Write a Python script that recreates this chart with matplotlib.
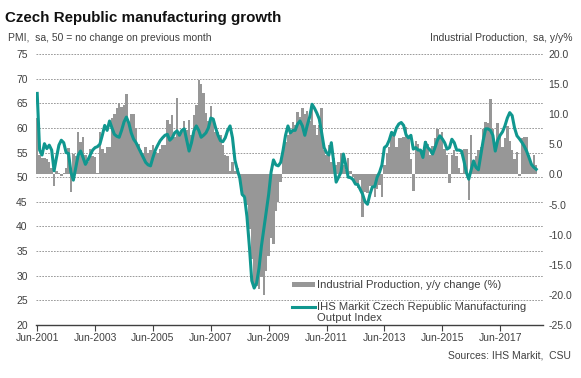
import matplotlib
matplotlib.use("Agg")
import matplotlib.pyplot as plt
import matplotlib.transforms as mtransforms
from matplotlib.lines import Line2D
from matplotlib.patches import Rectangle
import numpy as np

plt.rcParams['font.family'] = ['Liberation Sans', 'DejaVu Sans']

# monthly, starting Jun-2001
pmi_output = [
    67, 55.5, 54.5, 56.8, 55.8, 56.5, 55.5, 51.3, 54, 56.5, 57.5, 57,
    55, 54.8, 51, 49.4, 52, 54.5, 55.3, 54, 52.6, 53.5, 54.5, 55.5,
    56, 56.2, 56.7, 58.5, 60.5, 59.5, 61.4, 60, 58.7, 58.3, 58.1, 59.5,
    61.2, 62.2, 61, 59, 57.7, 57, 56, 55, 54, 53, 52.5, 52.3,
    54, 55.5, 56.5, 57.4, 58, 58.5, 58.7, 57.5, 58, 59, 59.4, 58.5,
    59.5, 59.8, 57.5, 55.3, 57, 59.4, 60.4, 59.5, 58.1, 58.5, 59, 60,
    62, 61.8, 60, 58.5, 57.4, 57.2, 58, 59.5, 60.4, 58, 53.5, 51.5,
    49.9, 46.5, 46, 42, 36, 29, 27.5, 28.5, 31.5, 36, 39.5, 43,
    46.5, 51, 53.5, 52.5, 52.3, 53, 55.5, 58.5, 60.4, 59, 59.5, 59.5,
    60.8, 61.4, 60.4, 58.5, 60.5, 62.2, 64.8, 64, 63, 61.8, 59, 56,
    55, 54.5, 57, 53, 49, 50, 51, 54.7, 52.5, 50, 49.9, 49.5,
    48.6, 48.5, 47.5, 46.5, 45, 44.5, 46.5, 48, 48.1, 50, 51, 52.5,
    56, 56.4, 57.5, 59.1, 58.5, 60, 60.8, 61.1, 60.5, 58.6, 58, 58.5,
    55.7, 56, 55.5, 55.5, 54, 57.1, 56, 55.5, 54.7, 56, 57.5, 58.4,
    57.8, 57, 55.7, 56, 57.7, 57, 55.5, 55.5, 55.3, 53.3, 51, 49.6,
    51.5, 53.3, 52, 51.5, 54.5, 57.5, 59.8, 59.8, 59.5, 58.5, 55.3, 57.5,
    58.5, 59.2, 60.4, 62, 63.1, 62.5, 60, 58.4, 57.8, 57.1, 56.3, 55.3,
    54, 52.6, 52, 51.6,
]

ip_yoy = [
    9.3, 3.2, 2.8, 2.7, 2.5, 2.1, 1.0, -2.0, 0.5, 0.3, -0.2, 0.2,
    1.0, 4.4, -2.9, 3.4, 3.0, 7.1, 5.4, 6.3, 3.2, 2.1, 4.3, 3.0,
    2.9, 0.2, 7.1, 4.3, 3.5, 4.6, 4.6, 9.3, 10.1, 11.0, 11.8, 11.2,
    11.5, 13.3, 8.7, 10.1, 10.1, 7.7, 5.0, 4.0, 3.5, 4.5, 3.6, 4.0,
    4.9, 3.8, 3.6, 4.2, 4.9, 4.9, 9.1, 8.3, 9.9, 6.3, 12.7, 7.1,
    7.1, 8.8, 7.4, 9.1, 6.6, 9.9, 11.5, 15.7, 15.1, 13.5, 10.2, 8.8,
    11.3, 8.8, 7.1, 7.0, 6.6, 4.9, 3.2, 3.0, 0.5, 2.0, 0.5, 1.0,
    -0.5, -2.5, -3.5, -5.0, -9.0, -14, -19, -18.5, -19, -17, -20, -16,
    -13.5, -10.5, -11.5, -6, -4.5, -1.2, 3.5, 5.4, 6.5, 7.4, 8.7, 8.2,
    10.4, 9.6, 11, 10.1, 10.5, 8.8, 11, 8.2, 6.6, 8.2, 11, 4.0,
    3.2, 4.9, 2.1, 2.7, 1.5, 2.0, 3.5, 1.5, 0.8, 2.7, 0.5, -0.5,
    -1.5, -2.3, -1.0, -7.0, -2.9, -3.0, -2.0, -2.3, -3.7, -2.5, -1.8, -3.7,
    1.5, 3.5, 4.5, 6.7, 6.5, 4.5, 6.1, 6.0, 6.3, 7.8, 6.0, 2.5,
    -2.7, 5.6, 5.0, 4.0, 4.0, 5.5, 5.0, 3.3, 4.7, 6.0, 7.5, 6.5,
    7.1, 4.3, 3.3, -1.5, 3.3, 4.0, 3.0, 1.1, 0.2, 4.3, 4.2, -4.3,
    6.5, 1.5, 3.0, 4.0, 4.5, 7.6, 8.7, 8.5, 12.6, 7.5, 5.0, 8.5,
    6.5, 4.5, 6.0, 8.0, 5.5, 4.0, 2.5, 3.8, -0.3, 6.0, 6.2, 6.2,
    3.2, 1.5, 3.2, 1.5,
]

tick_labels = ['Jun-2001', 'Jun-2003', 'Jun-2005', 'Jun-2007', 'Jun-2009',
               'Jun-2011', 'Jun-2013', 'Jun-2015', 'Jun-2017']
pmi_ticks = [20, 25, 30, 35, 40, 45, 50, 55, 60, 65, 70, 75]
ip_ticks = [-25, -20, -15, -10, -5, 0, 5, 10, 15, 20]

teal = '#10978f'
grey = '#979797'
txt = '#404040'

W, H = 581, 378
months = np.arange(len(pmi_output))

fig = plt.figure(figsize=(W / 100, H / 100), dpi=100)
ax1 = fig.add_axes([36 / W, 1 - 325 / H, (543 - 36) / W, (325 - 54) / H])
ax2 = ax1.twinx()
ax1.set_zorder(ax2.get_zorder() + 1)
ax1.patch.set_visible(False)

# bars on right axis
ax2.bar(months, ip_yoy, width=1.0, color=grey, zorder=2)
ax2.set_ylim(-25, 20)
ax2.set_yticks(ip_ticks)
ax2.set_yticklabels(['%.1f' % v for v in ip_ticks])

# grid lines follow the PMI scale, drawn beneath the bars
tr = mtransforms.blended_transform_factory(ax2.transAxes, ax1.transData)
for v in pmi_ticks[1:]:
    ax2.plot([0, 1], [v, v], transform=tr, color='#8a8a8a', lw=0.6,
             ls=(0, (2, 1.5)), zorder=0)

ax1.plot(months, pmi_output, color=teal, lw=2.2, zorder=3,
         solid_joinstyle='round')
ax1.set_ylim(20, 75)
ax1.set_yticks(pmi_ticks)
ax1.set_xlim(-0.5, 209.8)
ax1.set_xticks(np.arange(0, 24 * len(tick_labels), 24))
ax1.set_xticklabels(tick_labels)

for a in (ax1, ax2):
    for s in a.spines.values():
        s.set_visible(False)
ax1.spines['bottom'].set_visible(True)
ax1.spines['bottom'].set_color('#404040')
ax1.spines['bottom'].set_linewidth(1.0)

ax1.tick_params(axis='x', direction='out', length=4, width=0.8, color='#404040',
                labelsize=7.5, labelcolor=txt, pad=2)
ax1.tick_params(axis='y', length=0, labelsize=7.5, labelcolor=txt, pad=6)
ax2.tick_params(axis='y', length=0, labelsize=7.5, labelcolor=txt, pad=4)

# legend, laid out by hand (pixel positions)
def fx(px):
    return px / W

def fy(py):
    return 1 - py / H

fig.add_artist(Rectangle((fx(292), fy(287)), fx(315) - fx(292), fy(282) - fy(287),
                         transform=fig.transFigure, facecolor=grey, edgecolor='none'))
fig.add_artist(Line2D([fx(292), fx(315)], [fy(307), fy(307)],
                      transform=fig.transFigure, color=teal, lw=2.2))
fig.text(fx(317), fy(284.5), 'Industrial Production, y/y change (%)',
         fontsize=8.1, color=txt, va='center', ha='left')
fig.text(fx(317), fy(307), 'IHS Markit Czech Republic Manufacturing',
         fontsize=8.1, color=txt, va='center', ha='left')
fig.text(fx(317), fy(318), 'Output Index',
         fontsize=8.1, color=txt, va='center', ha='left')

fig.text(fx(5), fy(18), 'Czech Republic manufacturing growth',
         fontsize=10.9, fontweight='bold', color='#111111', va='center', ha='left')
fig.text(fx(8), fy(38), 'PMI,  sa, 50 = no change on previous month',
         fontsize=7.5, color=txt, va='center', ha='left')
fig.text(fx(573), fy(38), 'Industrial Production,  sa, y/y%',
         fontsize=7.5, color=txt, va='center', ha='right')
fig.text(fx(571), fy(355), 'Sources: IHS Markit,  CSU',
         fontsize=7.5, color=txt, va='center', ha='right')

fig.savefig('out.png', dpi=100)
